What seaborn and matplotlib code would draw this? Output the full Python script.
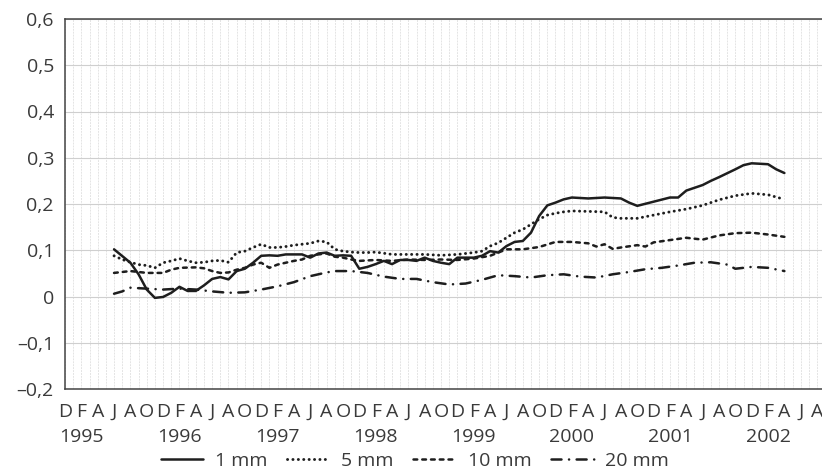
import numpy as np
import pandas as pd
import matplotlib
matplotlib.use("Agg")
import matplotlib.pyplot as plt
import matplotlib.transforms as mtransforms
import seaborn as sns

# month index: 0 = December 1994
solid_m = [6, 8, 9, 10, 11, 12, 13, 14, 15, 16, 17, 18, 19, 20, 21, 22, 23, 24, 25, 26, 27, 28, 29, 30, 31, 32, 33,
           34, 35, 36, 37, 38, 39, 40, 41, 42, 43, 44, 45, 46, 47, 48, 49, 50, 51, 52, 53, 54, 55, 56, 57, 58, 59, 60, 61, 62,
           64, 66, 68, 69, 70, 72, 74, 75, 76, 78, 79, 80, 82, 83, 84, 86, 87, 88]
solid_v = [0.102, 0.073, 0.048, 0.015, -0.003, -0.001, 0.008, 0.021, 0.012, 0.012,
           0.024, 0.038, 0.042, 0.037, 0.055, 0.060, 0.073, 0.088, 0.089, 0.088, 0.091, 0.091, 0.091, 0.084, 0.093, 0.095, 0.088,
           0.089, 0.088, 0.060, 0.064, 0.070, 0.077, 0.070, 0.079, 0.079, 0.077, 0.084, 0.077, 0.073, 0.070, 0.084, 0.084, 0.084,
           0.088, 0.098, 0.095, 0.109, 0.118, 0.120, 0.138, 0.174, 0.197, 0.203, 0.210, 0.214,
           0.212, 0.214, 0.212, 0.203, 0.196, 0.205, 0.214, 0.214, 0.229, 0.241, 0.250, 0.258, 0.275, 0.284, 0.288, 0.286,
           0.275, 0.267]

dot_m = [6, 7, 8, 9, 10, 11, 12, 13, 14, 15, 16, 17, 18, 19, 20, 21, 22, 23, 24, 25, 26, 27, 28, 29, 30, 31, 32, 33, 34,
         35, 36, 37, 38, 40, 42, 44, 46, 48, 50, 51, 52, 53, 54, 55, 56, 57, 58, 59, 60, 61, 62,
         64, 66, 67, 68, 70, 72, 74, 76, 78, 80, 82, 84, 86, 88]
dot_v = [0.088, 0.080, 0.074, 0.069, 0.067, 0.062, 0.073, 0.077, 0.082, 0.077, 0.073, 0.074, 0.077, 0.078, 0.074,
         0.095, 0.098, 0.106, 0.113, 0.106, 0.106, 0.108, 0.111, 0.113, 0.115, 0.120, 0.118, 0.102, 0.098, 0.096,
         0.095, 0.095, 0.096, 0.091, 0.091, 0.091, 0.089, 0.091, 0.095,
         0.098, 0.109, 0.116, 0.127, 0.138, 0.145, 0.156, 0.167, 0.176, 0.180, 0.183, 0.185,
         0.184, 0.183, 0.171, 0.169, 0.169, 0.176, 0.183, 0.189, 0.197, 0.209, 0.218, 0.223, 0.220, 0.210]

dash_m = [6, 8, 10, 12, 13, 14, 16, 17, 18, 19, 20, 21, 22, 23, 24, 25, 26, 27, 28, 29, 30, 31, 32, 33, 34, 35, 36,
          38, 40, 42, 44, 46, 48, 50, 52, 54, 56, 58, 60, 62, 64,
          65, 66, 67, 68, 70, 71, 72, 74, 76, 78, 80, 82, 84, 86, 88]
dash_v = [0.051, 0.055, 0.051, 0.051, 0.058, 0.062, 0.063,
          0.061, 0.055, 0.051, 0.052, 0.058, 0.062, 0.069, 0.073, 0.062, 0.069,
          0.073, 0.077, 0.080, 0.088, 0.091, 0.093, 0.086, 0.084, 0.080, 0.077,
          0.079, 0.077, 0.080, 0.079, 0.080, 0.079, 0.082, 0.088, 0.102, 0.102, 0.107, 0.118, 0.118, 0.115,
          0.108, 0.113, 0.103, 0.106, 0.111, 0.108, 0.117, 0.122, 0.127, 0.123, 0.132, 0.137, 0.138, 0.134, 0.129]

dd_m = [6, 7, 8, 10, 12, 14, 16, 18, 20, 22, 24, 26, 28, 30, 32, 33, 35, 37, 39, 41, 43, 45, 47, 49, 51, 53, 55,
        57, 59, 61, 63, 65, 67, 69, 71, 73, 75, 77, 79, 81, 82, 84, 86, 88]
dd_v = [0.006, 0.011, 0.019, 0.017, 0.015, 0.017, 0.015, 0.011, 0.008, 0.009, 0.015, 0.022, 0.031, 0.044, 0.052,
        0.055, 0.055, 0.051, 0.043, 0.038, 0.038, 0.031, 0.026, 0.028, 0.036, 0.046, 0.044, 0.041, 0.046, 0.048,
        0.043, 0.041, 0.048, 0.053, 0.059, 0.062, 0.067, 0.073, 0.074, 0.069, 0.060, 0.064, 0.062, 0.055]

series_names = ["1 mm", "5 mm", "10 mm", "20 mm"]
month_letters = ["D", "F", "A", "J", "A", "O"]
years = ["1995", "1996", "1997", "1998", "1999", "2000", "2001", "2002"]
y_ticks = [-0.2, -0.1, 0, 0.1, 0.2, 0.3, 0.4, 0.5, 0.6]
y_labels = ["–0,2", "–0,1", "0", "0,1", "0,2", "0,3", "0,4", "0,5", "0,6"]

# long form table for seaborn
df = pd.concat([
    pd.DataFrame({"month": solid_m, "value": solid_v, "series": series_names[0]}),
    pd.DataFrame({"month": dot_m, "value": dot_v, "series": series_names[1]}),
    pd.DataFrame({"month": dash_m, "value": dash_v, "series": series_names[2]}),
    pd.DataFrame({"month": dd_m, "value": dd_v, "series": series_names[3]}),
], ignore_index=True)

sns.set_style("white")
plt.rcParams["font.family"] = ["Open Sans", "DejaVu Sans"]
FS = 14
TXT = "#3a3a3a"

fig = plt.figure(figsize=(8.22, 4.75), dpi=100)
ax = fig.add_axes([65 / 822, 1 - 389 / 475, 1 - 65 / 822, (389 - 19) / 475])

# dash patterns in units of line width (round caps add one width to each dash)
dash_styles = {"1 mm": "", "5 mm": (0.05, 1.8), "10 mm": (1.5, 2.0), "20 mm": (4, 3, 0.05, 3)}
sns.lineplot(data=df, x="month", y="value", style="series", style_order=series_names,
             dashes=dash_styles, color="#1e1e1e", linewidth=1.8, ax=ax)
for line in ax.get_lines():
    line.set_dash_capstyle("round")

handles, labels = ax.get_legend_handles_labels()
for h in handles:
    h.set_dash_capstyle("round")
ax.get_legend().remove()
# dotted series a touch heavier, as in the print
ax.get_lines()[1].set_linewidth(2.1)
handles[1].set_linewidth(2.1)
fig.legend(handles, labels, loc="center", bbox_to_anchor=(415 / 822, 1 - 461 / 475), ncol=4,
           frameon=False, fontsize=FS, handlelength=2.2, columnspacing=1.0, handletextpad=0.6,
           labelcolor=TXT)

ax.set_xlim(0, 92.6)
ax.set_ylim(-0.2, 0.6)
ax.set_yticks(y_ticks)
ax.set_yticklabels(y_labels, fontsize=FS, color=TXT)
xt = np.arange(0, 93, 2)
ax.set_xticks(xt)
ax.set_xticklabels([month_letters[i % 6] for i in range(len(xt))], fontsize=FS, color=TXT)
ax.set_xticks(np.arange(0, 93, 1), minor=True)
ax.tick_params(axis="x", which="major", length=6, width=1, color="#444444", pad=4)
ax.tick_params(axis="x", which="minor", length=0)
ax.tick_params(axis="y", length=5, width=1, color="#444444", pad=3)
ax.set_xlabel("")
ax.set_ylabel("")

ax.grid(axis="x", which="both", color="#e4e4e4", linewidth=0.7, linestyle=(0, (2, 1)))
ax.grid(axis="y", which="major", color="#cfcfcf", linewidth=0.8)
ax.set_axisbelow(True)

for side in ["left", "bottom", "top"]:
    ax.spines[side].set_color("#444444")
    ax.spines[side].set_linewidth(1.1)
ax.spines["right"].set_visible(False)

# year labels under the February ticks
trans = mtransforms.blended_transform_factory(ax.transData, fig.transFigure)
for i, yr in enumerate(years):
    ax.text(2 + 12 * i, 1 - 437 / 475, yr, transform=trans, ha="center", va="center",
            fontsize=FS, color=TXT)

fig.savefig("out.png", dpi=100)
